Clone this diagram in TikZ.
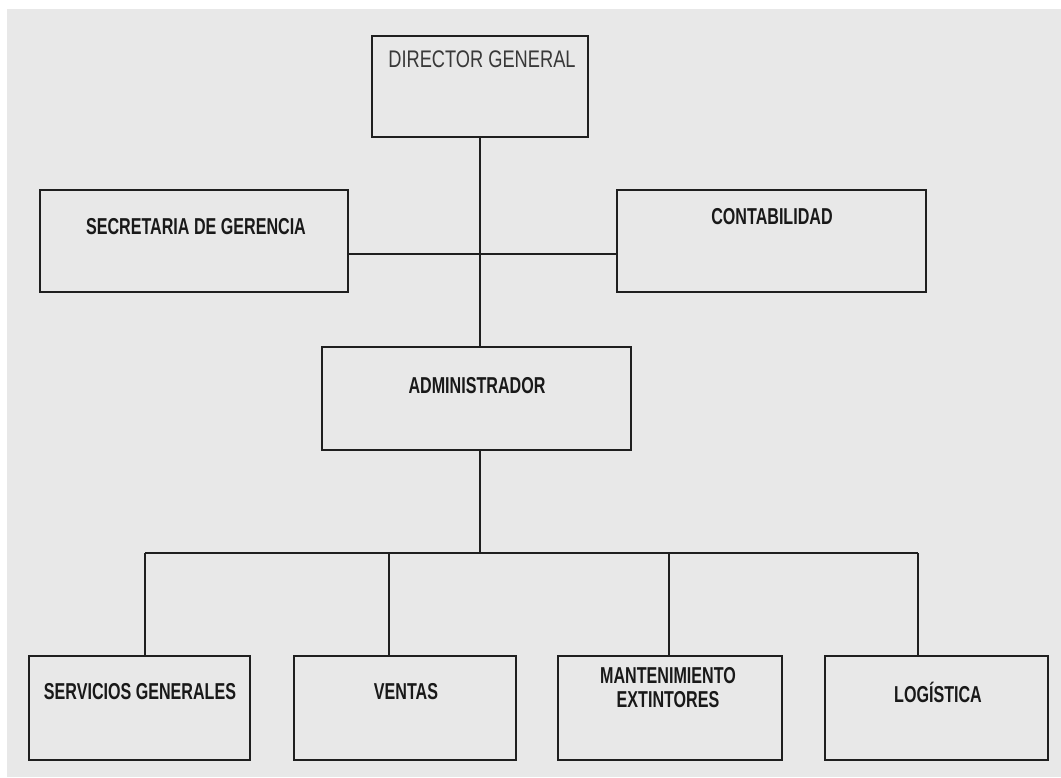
\documentclass[tikz,border=0pt]{standalone}
\usepackage{fontspec}
\newfontfamily\narrowfont[FakeStretch=0.70]{Liberation Sans}
\newfontfamily\narrowreg[FakeStretch=0.76]{Liberation Sans}
\begin{document}
\begin{tikzpicture}[x=1pt,y=-1pt,
  unit/.style={draw=black!88, line width=2.3pt, fill=none, inner sep=0pt},
  wire/.style={draw=black!88, line width=2pt},
  lbl/.style={text=black!90, inner sep=0pt, align=center,
    font=\narrowfont\bfseries\fontsize{23}{24}\selectfont},
  lblreg/.style={text=black!78, inner sep=0pt,
    font=\narrowreg\fontsize{24}{24}\selectfont}]
  % page and grey panel
  \fill[white] (0,0) rectangle (1061,777);
  \fill[black!9] (7,9) rectangle (1061,777);
  \useasboundingbox (0,0) rectangle (1061,777);

  % boxes
  \node[unit, minimum width=216pt, minimum height=101pt] (dg)  at (480,86.5) {};
  \node[unit, minimum width=308pt, minimum height=102pt] (sec) at (194,241) {};
  \node[unit, minimum width=309pt, minimum height=102pt] (con) at (771.5,241) {};
  \node[unit, minimum width=309pt, minimum height=103pt] (adm) at (476.5,398.5) {};
  \node[unit, minimum width=221pt, minimum height=104pt] (srv) at (139.5,708) {};
  \node[unit, minimum width=222pt, minimum height=104pt] (ven) at (405,708) {};
  \node[unit, minimum width=224pt, minimum height=104pt] (man) at (670,708) {};
  \node[unit, minimum width=223pt, minimum height=104pt] (log) at (936.5,708) {};

  % labels
  \node[lblreg] (dgT)  at (482,59)  {DIRECTOR GENERAL};
  \node[lbl]    (secT) at (196,227) {SECRETARIA DE GERENCIA};
  \node[lbl]    (conT) at (772,217) {CONTABILIDAD};
  \node[lbl]    (admT) at (477,386) {ADMINISTRADOR};
  \node[lbl]    (srvT) at (140,692) {SERVICIOS GENERALES};
  \node[lbl]    (venT) at (406,692) {VENTAS};
  \node[lbl]    (manT) at (668,688) {MANTENIMIENTO\\EXTINTORES};
  \node[lbl]    (logT) at (938,692) {LOGÍSTICA};

  % junction points
  \coordinate (trunk) at (480,0);
  \coordinate (hub)   at (480,553);
  \coordinate (bl)    at (145,553);
  \coordinate (br)    at (918,553);

  % connectors
  \draw[wire] (dg.south) -- (dg.south |- adm.north);
  \draw[wire] ([yshift=-13pt]sec.east) -- ([yshift=-13pt]con.west);
  \draw[wire] (trunk |- adm.south) -- (hub);
  \draw[wire] (bl) -- (br);
  \draw[wire] (bl) -- (bl |- srv.north);
  \draw[wire] (389,553) -- (389,0 |- ven.north);
  \draw[wire] (669,553) -- (669,0 |- man.north);
  \draw[wire] (br) -- (br |- log.north);
\end{tikzpicture}
\end{document}
